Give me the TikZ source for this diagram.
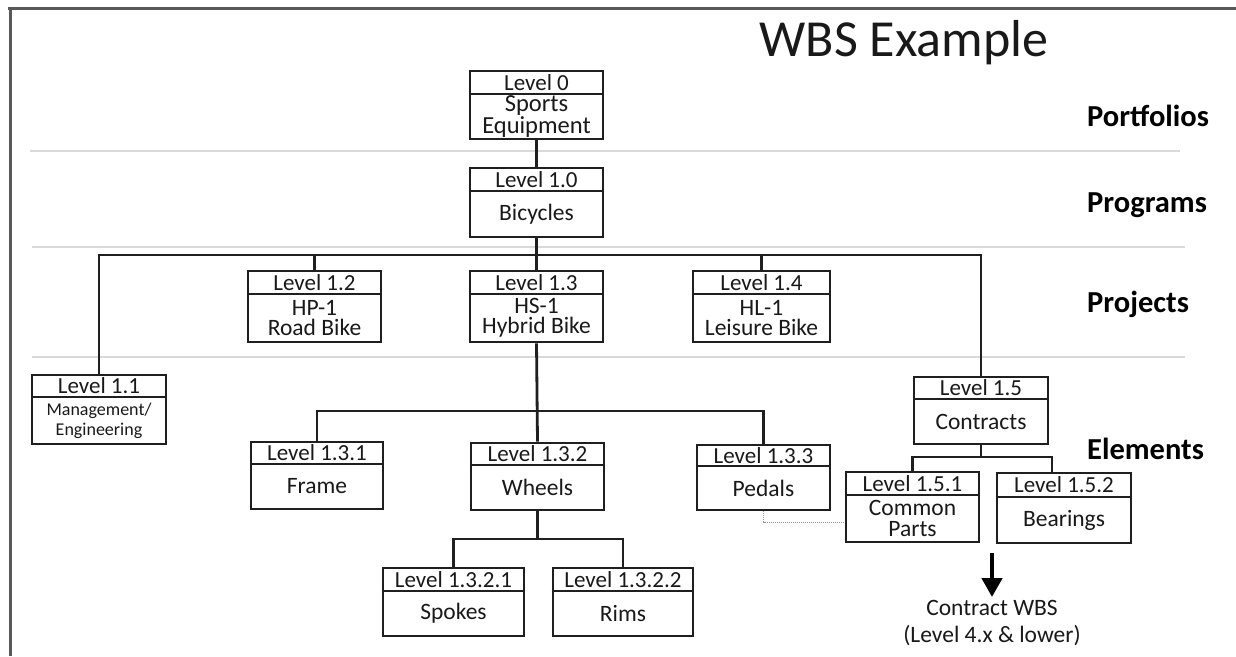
\documentclass[tikz,border=0pt]{standalone}
\usepackage{fontspec}
\setmainfont{Carlito}
\usetikzlibrary{arrows.meta,calc}
\tikzset{
  wbsframe/.style={draw=black!88, line width=2.8pt, inner sep=0pt, fill=white},
  hdr/.style={font=\fontsize{23}{24}\selectfont, anchor=base, inner sep=0pt, text=black!90},
  bodytxt/.style={font=\fontsize{23.5}{20.5}\selectfont, align=center, inner sep=0pt, text=black!90},
  smalltxt/.style={font=\fontsize{18}{20}\selectfont},
  conn/.style={draw=black!88, line width=2.8pt},
  sepline/.style={draw=black!15, line width=2pt},
  framel/.style={draw=black!65, line width=3pt},
  lvl/.style={font=\fontsize{30.5}{32}\selectfont\bfseries, anchor=base west, inner sep=0pt, text=black},
  dotline/.style={draw=black!40, line width=1pt, dash pattern=on 1pt off 1pt},
  bigarrow/.style={draw=black, line width=4.5pt, -{Triangle[width=20pt,length=19pt]}},
}
% #1 name, #2 x1, #3 x2, #4 y1, #5 ydiv, #6 y2, #7 header, #8 body, #9 body style
\newcommand{\wbsbox}[9]{%
  \pgfmathsetmacro\wbsw{#3-#2}%
  \pgfmathsetmacro\wbsh{#6-#4}%
  \node[wbsframe, minimum width=\wbsw pt, minimum height=\wbsh pt] (#1) at ({(#2+#3)/2},{(#4+#6)/2}) {};
  \draw[conn] (#1.west |- 0,#5) -- (#1.east |- 0,#5);
  \node[hdr] (#1h) at ({(#2+#3)/2},{(#4+#5)/2+7.5}) {#7};
  \node[bodytxt,#9] (#1b) at ({(#2+#3)/2},{(#5+#6)/2}) {#8};
}
\begin{document}
\begin{tikzpicture}[x=1pt,y=-1pt]
\useasboundingbox (0,0) rectangle (1236,656);
\fill[white] (0,0) rectangle (1236,656);
% frame
\draw[framel] (8,8) -- (1236,8);
\draw[framel] (10,8) -- (10,656);
% title
\node[anchor=base, inner sep=0pt, font=\fontsize{52}{54}\selectfont, text=black!90] (title) at (904,56) {WBS Example};
% separators
\draw[sepline] (30,151) -- (1180,151);
\draw[sepline] (32,247) -- (1185,247);
\draw[sepline] (32,357) -- (1185,357);
% level labels
\node[lvl] (portf) at (1087,126) {Portfolios};
\node[lvl] (progr) at (1087,212) {Programs};
\node[lvl] (proj) at (1087,312) {Projects};
\node[lvl] (elem) at (1087,459) {Elements};
% boxes
\wbsbox{l0}{470}{603}{71}{94}{139}{Level 0}{Sports\\Equipment}{font=\fontsize{24.5}{19}\selectfont}
\wbsbox{l10}{470}{603}{168}{191}{237}{Level 1.0}{Bicycles}{}
\wbsbox{l12}{248}{381}{271}{294}{342}{Level 1.2}{HP-1\\Road Bike}{}
\wbsbox{l13}{470}{603}{271}{294}{342}{Level 1.3}{HS-1\\Hybrid Bike}{}
\wbsbox{l14}{693}{830}{271}{294}{342}{Level 1.4}{HL-1\\Leisure Bike}{}
\wbsbox{l11}{32}{166}{375}{397}{444}{Level 1.1}{Management/\\Engineering}{smalltxt}
\wbsbox{l15}{914}{1048}{377}{399}{444}{Level 1.5}{Contracts}{}
\wbsbox{l131}{251}{383}{442}{464}{509}{Level 1.3.1}{Frame}{}
\wbsbox{l132}{471}{604}{443}{465}{510}{Level 1.3.2}{Wheels}{}
\wbsbox{l133}{697}{830}{445}{466}{510}{Level 1.3.3}{Pedals}{}
\wbsbox{l151}{846}{979}{472}{495}{542}{Level 1.5.1}{Common\\Parts}{}
\wbsbox{l152}{997}{1131}{473}{497}{543}{Level 1.5.2}{Bearings}{}
\wbsbox{l1321}{383}{524}{568}{591}{636}{Level 1.3.2.1}{Spokes}{}
\wbsbox{l1322}{553}{693}{568}{591}{636}{Level 1.3.2.2}{Rims}{}
% connectors
\draw[conn] (l0.south) -- (l10.north);
\coordinate (b1) at (l10.south |- 0,255);
\draw[conn] (l10.south) -- (l13.north);
\draw[conn] (l11.north) |- (b1) -| (l15.north);
\draw[conn] (l12.north) -- (l12.north |- b1);
\draw[conn] (l14.north) -- (l14.north |- b1);
\coordinate (b2) at (l13.south |- 0,411);
\draw[conn] (l13.south) -- (l132.north);
\draw[conn] (l131.north) |- (b2) -| (l133.north);
\coordinate (b3) at (l132.south |- 0,539);
\draw[conn] (l132.south) -- (b3);
\draw[conn] (l1321.north) |- (b3) -| (l1322.north);
\coordinate (b4) at (l15.south |- 0,457);
\draw[conn] (l15.south) -- (b4);
\draw[conn] (l151.north) |- (b4) -| ([xshift=-12pt]l152.north);
\draw[dotline] (l133.south) |- (l151.west |- 0,522);
% contract WBS
\coordinate (arrS) at (992,553);
\coordinate (arrE) at (992,597);
\draw[bigarrow] (arrS) -- (arrE);
\node[anchor=north, inner sep=0pt, align=center, font=\fontsize{23.5}{27}\selectfont, text=black!90] (cwbs) at (992,600) {Contract WBS\\(Level 4.x \& lower)};
\end{tikzpicture}
\end{document}
